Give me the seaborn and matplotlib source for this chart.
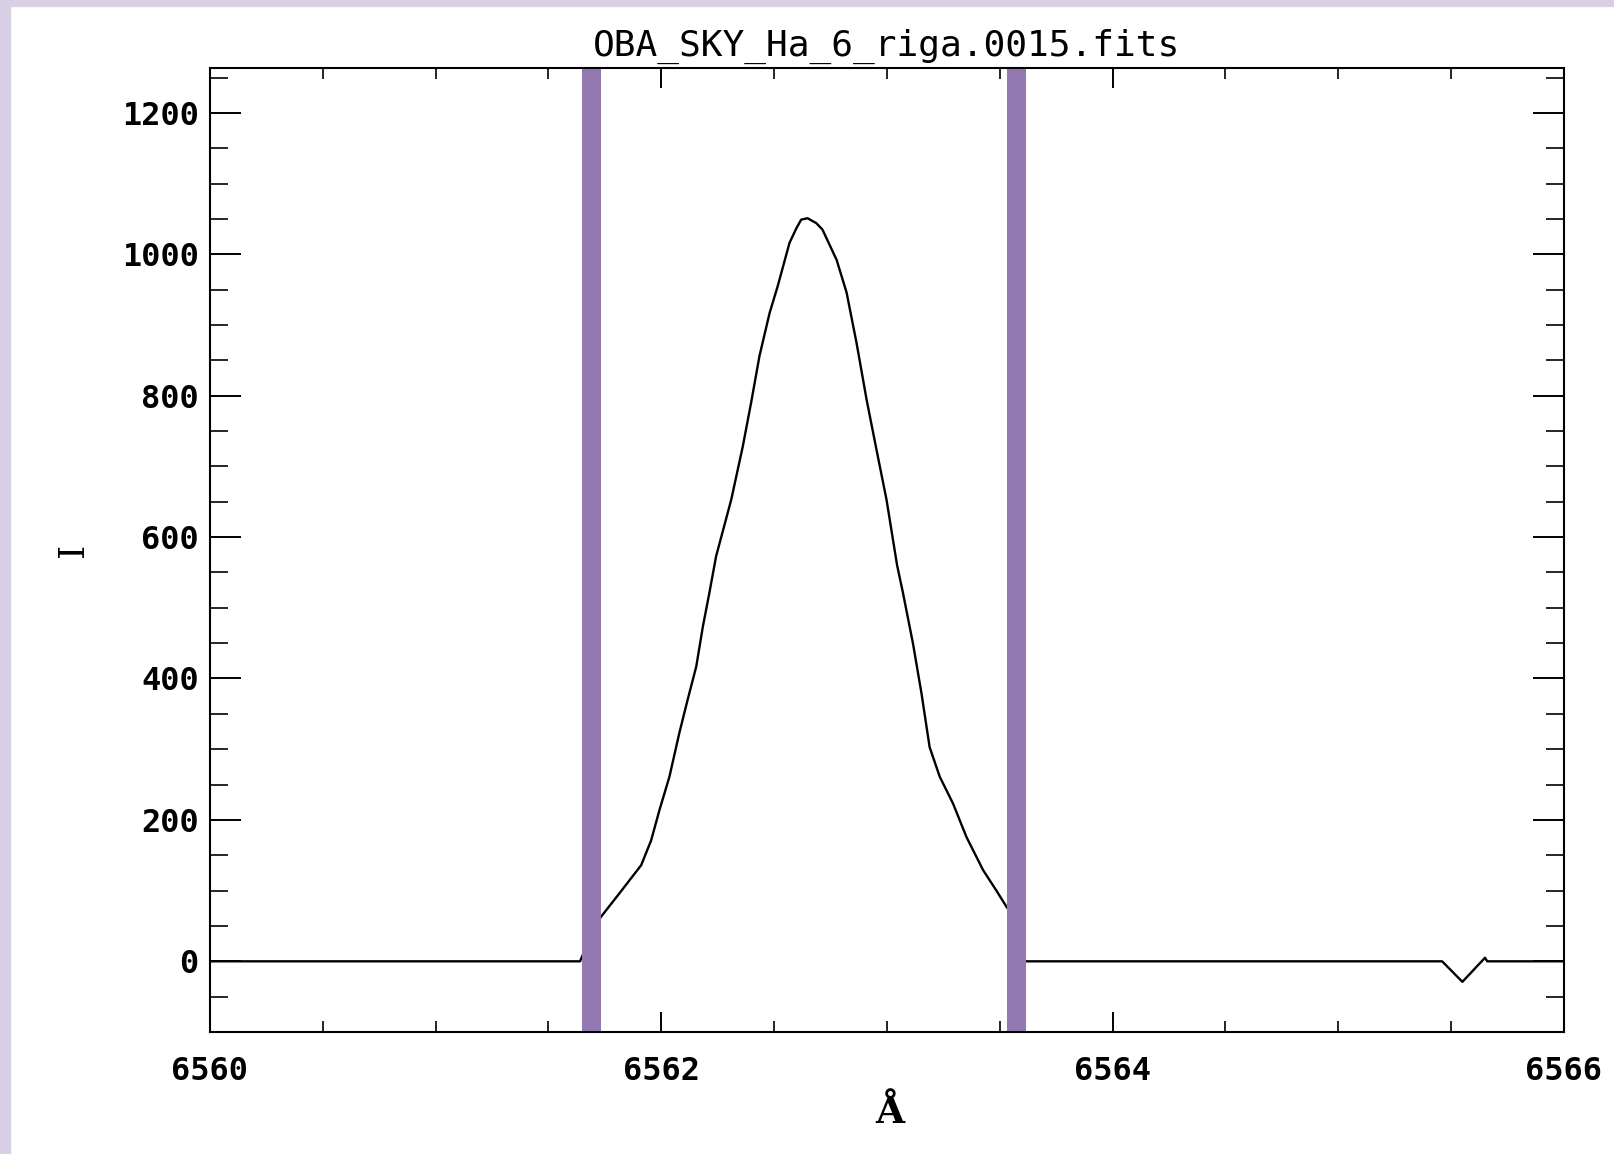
import seaborn as sns
import matplotlib.pyplot as plt
from matplotlib.ticker import MultipleLocator
from matplotlib.patches import Rectangle

# ------------------ DATA ------------------
TITLE = 'OBA_SKY_Ha_6_riga.0015.fits'

wavelength = [6560.000, 6561.640, 6561.700, 6561.733, 6561.814, 6561.911, 6561.955,
              6561.992, 6562.036, 6562.080, 6562.116, 6562.155, 6562.184, 6562.213,
              6562.243, 6562.310, 6562.361, 6562.398, 6562.435, 6562.480, 6562.516,
              6562.568, 6562.599, 6562.620, 6562.648, 6562.687, 6562.714, 6562.777,
              6562.821, 6562.865, 6562.910, 6562.954, 6562.998, 6563.045, 6563.071,
              6563.115, 6563.153, 6563.189, 6563.234, 6563.293, 6563.352, 6563.426,
              6563.485, 6563.530, 6563.570, 6563.600,
              6565.460, 6565.550, 6565.650, 6565.660, 6566.000]
intensity = [0, 0, 45, 63, 96, 136, 171,
             214, 261, 323, 369, 417, 473, 521,
             573, 653, 728, 790, 856, 917, 955,
             1016, 1037, 1049, 1051, 1044, 1035, 992,
             946, 875, 794, 723, 653, 560, 521,
             450, 379, 303, 261, 223, 176, 129,
             100, 77, 60, 0,
             0, -29, 5, 0, 0]

window_edges = [6561.690, 6563.571]

X_LIMITS = (6560, 6566)
Y_LIMITS = (-100, 1263)
X_TICKS = [6560, 6562, 6564, 6566]
Y_TICKS = [0, 200, 400, 600, 800, 1000, 1200]

BAND_COLOR = '#9379b2'
BORDER_COLOR = '#d8cfe4'
# ------------------------------------------

sns.set_theme(style='ticks')
plt.rcParams['font.family'] = ['DejaVu Sans']

fig = plt.figure(figsize=(16.15, 11.54), dpi=100)
fig.patch.set_facecolor('white')
ax = fig.add_axes([0.1300, 0.1057, 0.8384, 0.8351])

# lavender screenshot border (left and top)
fig.patches.append(Rectangle((0, 0), 10 / 1615, 1, transform=fig.transFigure,
                             color=BORDER_COLOR, zorder=0))
fig.patches.append(Rectangle((0, 1 - 6 / 1154), 1, 6 / 1154, transform=fig.transFigure,
                             color=BORDER_COLOR, zorder=0))

sns.lineplot(x=wavelength, y=intensity, ax=ax, color='black', linewidth=1.7,
             sort=False, estimator=None, zorder=1.5)

for edge in window_edges:
    ax.axvline(edge, color=BAND_COLOR, linewidth=13.7, zorder=2.2)

ax.set_xlim(*X_LIMITS)
ax.set_ylim(*Y_LIMITS)
ax.set_xticks(X_TICKS)
ax.set_yticks(Y_TICKS)
ax.xaxis.set_minor_locator(MultipleLocator(0.5))
ax.yaxis.set_minor_locator(MultipleLocator(50))
ax.ticklabel_format(useOffset=False, style='plain')

for side in ax.spines.values():
    side.set_linewidth(1.5)
    side.set_color('black')

ax.tick_params(axis='x', which='major', direction='in', length=14.5, width=1.4,
               top=True, bottom=True, labelsize=23, pad=17, colors='black')
ax.tick_params(axis='x', which='minor', direction='in', length=8, width=1.4,
               top=True, bottom=True)
ax.tick_params(axis='y', which='major', direction='in', length=22, width=1.4,
               left=True, right=True, labelsize=23, pad=8, colors='black')
ax.tick_params(axis='y', which='minor', direction='in', length=13, width=1.4,
               left=True, right=True)

for lbl in ax.get_xticklabels() + ax.get_yticklabels():
    lbl.set_fontfamily('DejaVu Sans Mono')
    lbl.set_fontweight('bold')

ax.set_title(TITLE, fontsize=26, family='DejaVu Sans Mono', pad=9, color='black')
ax.set_xlabel('Å', fontsize=27, family='DejaVu Serif', fontweight='bold',
              va='center', color='black')
ax.xaxis.set_label_coords(0.502, -0.084)
ax.set_ylabel('I', fontsize=26, family='DejaVu Serif', va='center', color='black')
ax.yaxis.set_label_coords(-0.101, 0.5)

fig.savefig('out.png', dpi=100)
plt.close(fig)
